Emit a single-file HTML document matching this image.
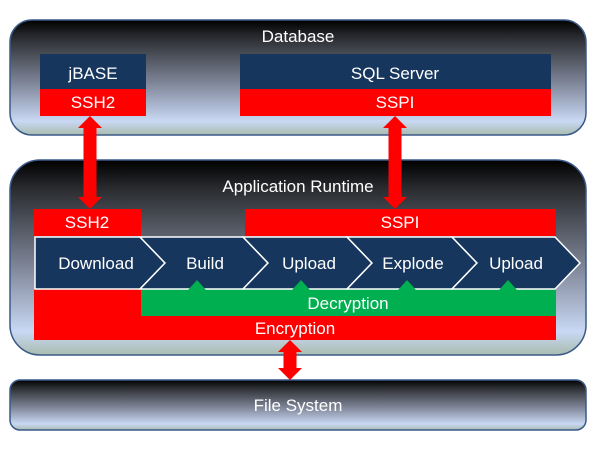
<!DOCTYPE html>
<html><head><style>
html,body{margin:0;padding:0;background:#fff;}
svg{display:block;font-family:"Liberation Sans",sans-serif;}
</style></head><body>
<svg width="600" height="450" viewBox="0 0 600 450" xmlns="http://www.w3.org/2000/svg">
<defs>
<linearGradient id="g" x1="0" y1="0" x2="0" y2="1">
<stop offset="0" stop-color="#000"/>
<stop offset="0.15" stop-color="#2a2c30"/>
<stop offset="0.55" stop-color="#7f8698"/>
<stop offset="0.88" stop-color="#c9d8f4"/>
<stop offset="1" stop-color="#a9bcae"/>
</linearGradient>
</defs>
<rect x="10" y="20" width="576" height="115" rx="22" fill="url(#g)" stroke="#3a5a8a" stroke-width="1.5"/>
<rect x="10" y="160" width="576" height="195" rx="30" fill="url(#g)" stroke="#3a5a8a" stroke-width="1.5"/>
<rect x="10" y="380" width="576" height="50" rx="10" fill="url(#g)" stroke="#3a5a8a" stroke-width="1.5"/>
<g fill="#fff" font-size="17" text-anchor="middle">
<text x="298" y="42">Database</text>
<text x="298" y="192">Application Runtime</text>
<text x="298" y="411">File System</text>
</g>
<rect x="40" y="54" width="106" height="35" fill="#17365d"/>
<rect x="40" y="89" width="106" height="27" fill="#f00"/>
<rect x="240" y="54" width="311" height="35" fill="#17365d"/>
<rect x="240" y="89" width="311" height="27" fill="#f00"/>
<rect x="34" y="209" width="107" height="27" fill="#f00"/>
<rect x="245" y="209" width="311" height="27" fill="#f00"/>
<rect x="34" y="289" width="522" height="51" fill="#f00"/>
<rect x="141" y="289" width="415" height="27" fill="#00b050"/>
<g fill="#17365d" stroke="#fff" stroke-width="1.5">
<polygon points="35,237 140,237 165,263 140,289 35,289"/>
<polygon points="140,237 243,237 268,263 243,289 140,289 165,263"/>
<polygon points="243,237 347,237 372,263 347,289 243,289 268,263"/>
<polygon points="347,237 452,237 477,263 452,289 347,289 372,263"/>
<polygon points="452,237 555,237 580,263 555,289 452,289 477,263"/>
</g>
<g fill="#00b050">
<polygon points="188,290 197,280 206,290"/>
<polygon points="292,290 301,280 310,290"/>
<polygon points="398,290 407,280 416,290"/>
<polygon points="499,290 508,280 517,290"/>
</g>
<g fill="#f00">
<polygon points="90,116 102,128 96.5,128 96.5,197 102,197 90,209 78,197 83.5,197 83.5,128 78,128"/>
<polygon points="395,116 407,128 401.5,128 401.5,197 407,197 395,209 383,197 388.5,197 388.5,128 383,128"/>
<polygon points="290,340 302,352 296.5,352 296.5,368 302,368 290,380 278,368 283.5,368 283.5,352 278,352"/>
</g>
<g fill="#fff" font-size="17" text-anchor="middle">
<text x="93" y="79">jBASE</text>
<text x="93" y="108">SSH2</text>
<text x="395" y="79">SQL Server</text>
<text x="395" y="108">SSPI</text>
<text x="87" y="228">SSH2</text>
<text x="400" y="228">SSPI</text>
<text x="96" y="269">Download</text>
<text x="205" y="269">Build</text>
<text x="309" y="269">Upload</text>
<text x="413" y="269">Explode</text>
<text x="516" y="269">Upload</text>
<text x="348" y="309">Decryption</text>
<text x="295" y="334">Encryption</text>
</g>
</svg>
</body></html>
